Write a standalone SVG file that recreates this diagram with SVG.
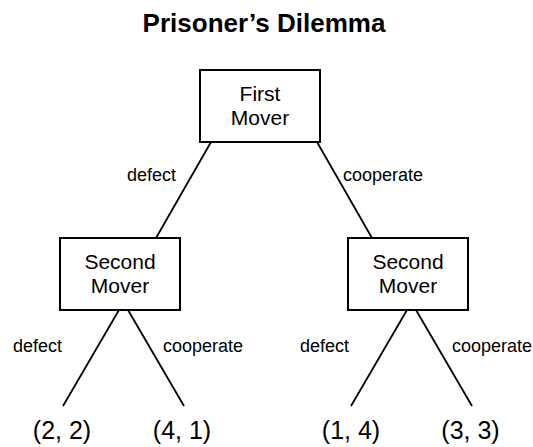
<svg xmlns="http://www.w3.org/2000/svg" width="533" height="447" viewBox="0 0 533 447">
<style>
text{font-family:"Liberation Sans",Arial,sans-serif;fill:#000}
.title{font-size:26px;font-weight:bold;text-anchor:middle}
.node rect{fill:#fff;stroke:#000;stroke-width:2}
.node text{font-size:21px;text-anchor:middle}
.lbl{font-size:18px}
.pay{font-size:25px;text-anchor:middle}
#connectors line{stroke:#000;stroke-width:1.8}
</style>
<rect width="533" height="447" fill="#fff"/>
<text class="title" x="264" y="32">Prisoner’s Dilemma</text>
<g id="connectors">
<line x1="211" y1="142" x2="156" y2="238"/>
<line x1="317" y1="142" x2="372" y2="238"/>
<line x1="119" y1="310" x2="63" y2="406"/>
<line x1="128" y1="310" x2="184" y2="406"/>
<line x1="407" y1="310" x2="351" y2="406"/>
<line x1="416" y1="310" x2="472" y2="406"/>
</g>
<g id="labels">
<text class="lbl" x="127" y="181">defect</text>
<text class="lbl" x="343" y="181">cooperate</text>
<text class="lbl" x="13" y="352">defect</text>
<text class="lbl" x="163" y="352">cooperate</text>
<text class="lbl" x="300" y="352">defect</text>
<text class="lbl" x="452" y="352">cooperate</text>
</g>
<g id="first-mover" class="node">
<rect x="200" y="70" width="120" height="72"/>
<text x="260" y="100.5">First</text>
<text x="260" y="125">Mover</text>
</g>
<g id="second-mover-left" class="node">
<rect x="60" y="238" width="120" height="72"/>
<text x="120" y="268.5">Second</text>
<text x="120" y="293">Mover</text>
</g>
<g id="second-mover-right" class="node">
<rect x="348" y="238" width="120" height="72"/>
<text x="408" y="268.5">Second</text>
<text x="408" y="293">Mover</text>
</g>
<g id="payoff-1"><text class="pay" x="62" y="439">(2, 2)</text></g>
<g id="payoff-2"><text class="pay" x="182" y="439">(4, 1)</text></g>
<g id="payoff-3"><text class="pay" x="351" y="439">(1, 4)</text></g>
<g id="payoff-4"><text class="pay" x="470.5" y="439">(3, 3)</text></g>
</svg>
